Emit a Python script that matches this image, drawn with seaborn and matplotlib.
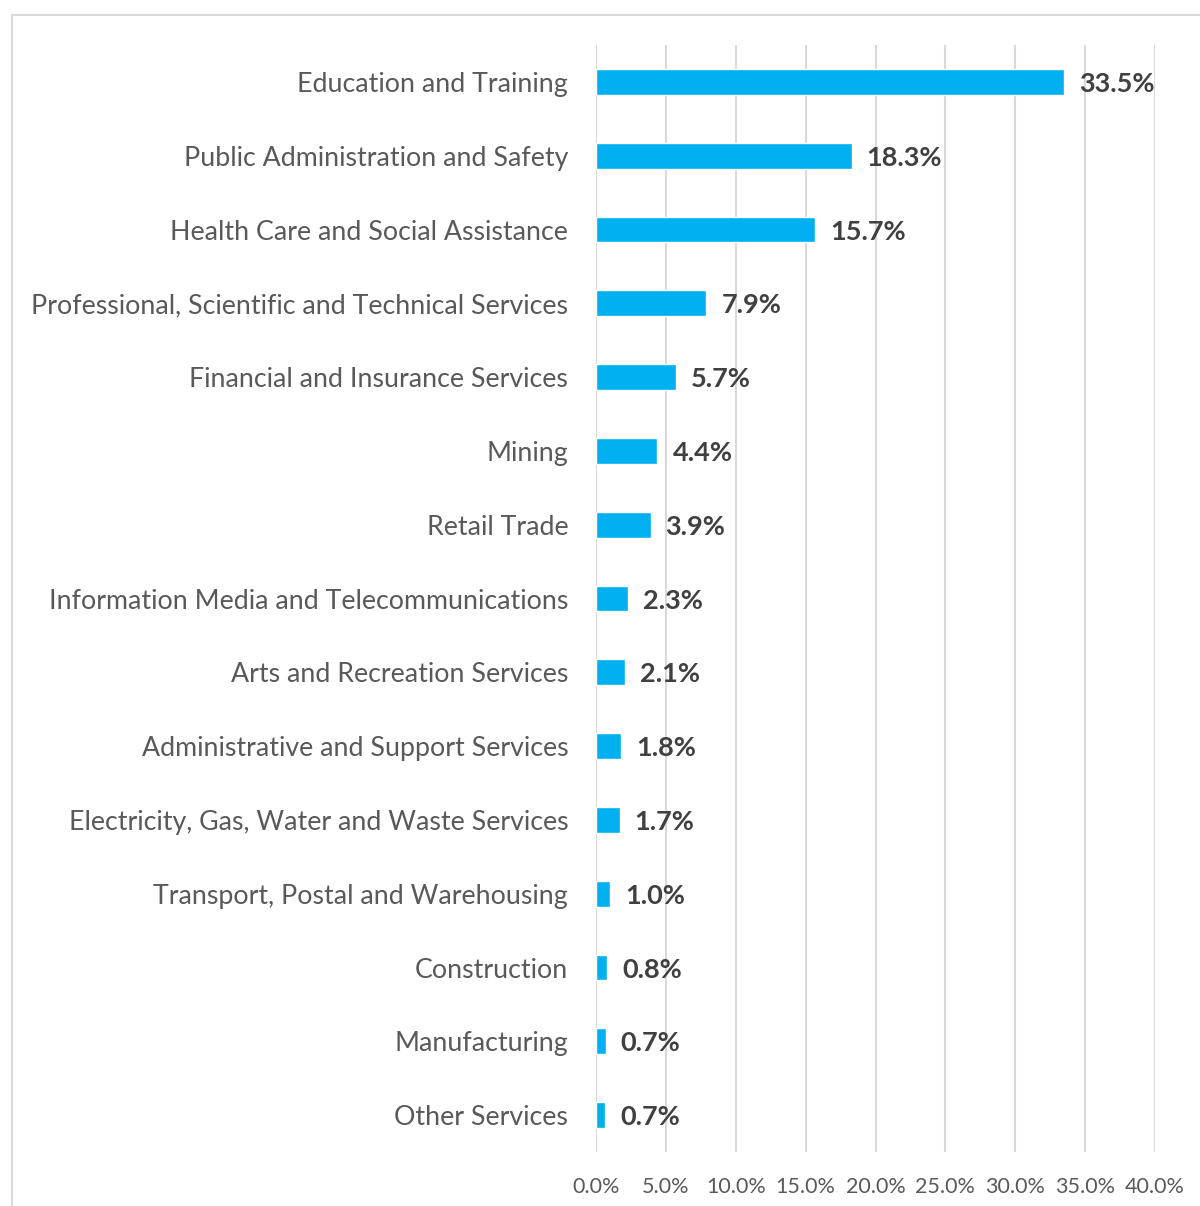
import matplotlib
matplotlib.use("Agg")
import matplotlib.pyplot as plt
import matplotlib.patches as mpatches
from matplotlib.ticker import FuncFormatter
import pandas as pd
import seaborn as sns

# chart data
industries = [
    "Education and Training",
    "Public Administration and Safety",
    "Health Care and Social Assistance",
    "Professional, Scientific and Technical Services",
    "Financial and Insurance Services",
    "Mining",
    "Retail Trade",
    "Information Media and Telecommunications",
    "Arts and Recreation Services",
    "Administrative and Support Services",
    "Electricity, Gas, Water and Waste Services",
    "Transport, Postal and Warehousing",
    "Construction",
    "Manufacturing",
    "Other Services",
]
shares = [33.5, 18.3, 15.7, 7.9, 5.7, 4.4, 3.9, 2.3, 2.1, 1.8, 1.7, 1.0, 0.8, 0.7, 0.65]
share_labels = ["33.5%", "18.3%", "15.7%", "7.9%", "5.7%", "4.4%", "3.9%", "2.3%",
                "2.1%", "1.8%", "1.7%", "1.0%", "0.8%", "0.7%", "0.7%"]
x_ticks = [0, 5, 10, 15, 20, 25, 30, 35, 40]

df = pd.DataFrame({"industry": industries, "share": shares})

sns.set_style("white")
plt.rcParams["font.family"] = ["Lato", "DejaVu Sans"]

fig = plt.figure(figsize=(12, 12.06), dpi=100)
ax = fig.add_axes([596 / 1200, 1 - 1152 / 1206, (1155 - 596) / 1200, (1152 - 45) / 1206])

# outer frame (partly clipped, as in the original screenshot)
fig.patches.append(mpatches.Rectangle((12 / 1200, -0.1), 1.2, 1 - 15 / 1206 + 0.1,
                                      transform=fig.transFigure, fill=False,
                                      edgecolor="#d9d9d9", linewidth=1.5))

sns.barplot(data=df, x="share", y="industry", color="#00b0f0", saturation=1,
            width=0.35, ax=ax)

ax.set_xlim(0, 40)
ax.set_ylim(len(industries) - 0.5, -0.5)
ax.set_xticks(x_ticks)
ax.xaxis.set_major_formatter(FuncFormatter(lambda v, p: f"{v:.1f}%"))
ax.grid(axis="x", color="#d9d9d9", linewidth=1.5)
ax.set_axisbelow(True)
for s in ax.spines.values():
    s.set_visible(False)
ax.set_xlabel("")
ax.set_ylabel("")
ax.tick_params(axis="x", length=0, labelsize=15.5, labelcolor="#595959", pad=18)
ax.tick_params(axis="y", length=0, labelsize=19.3, labelcolor="#595959", pad=20)

for i, (v, lab) in enumerate(zip(shares, share_labels)):
    ax.annotate(lab, (v, i), xytext=(15, -2), textcoords="offset pixels",
                va="center", ha="left", fontsize=19.5, fontweight="bold", color="#404040")

fig.savefig("out.png", dpi=100)
